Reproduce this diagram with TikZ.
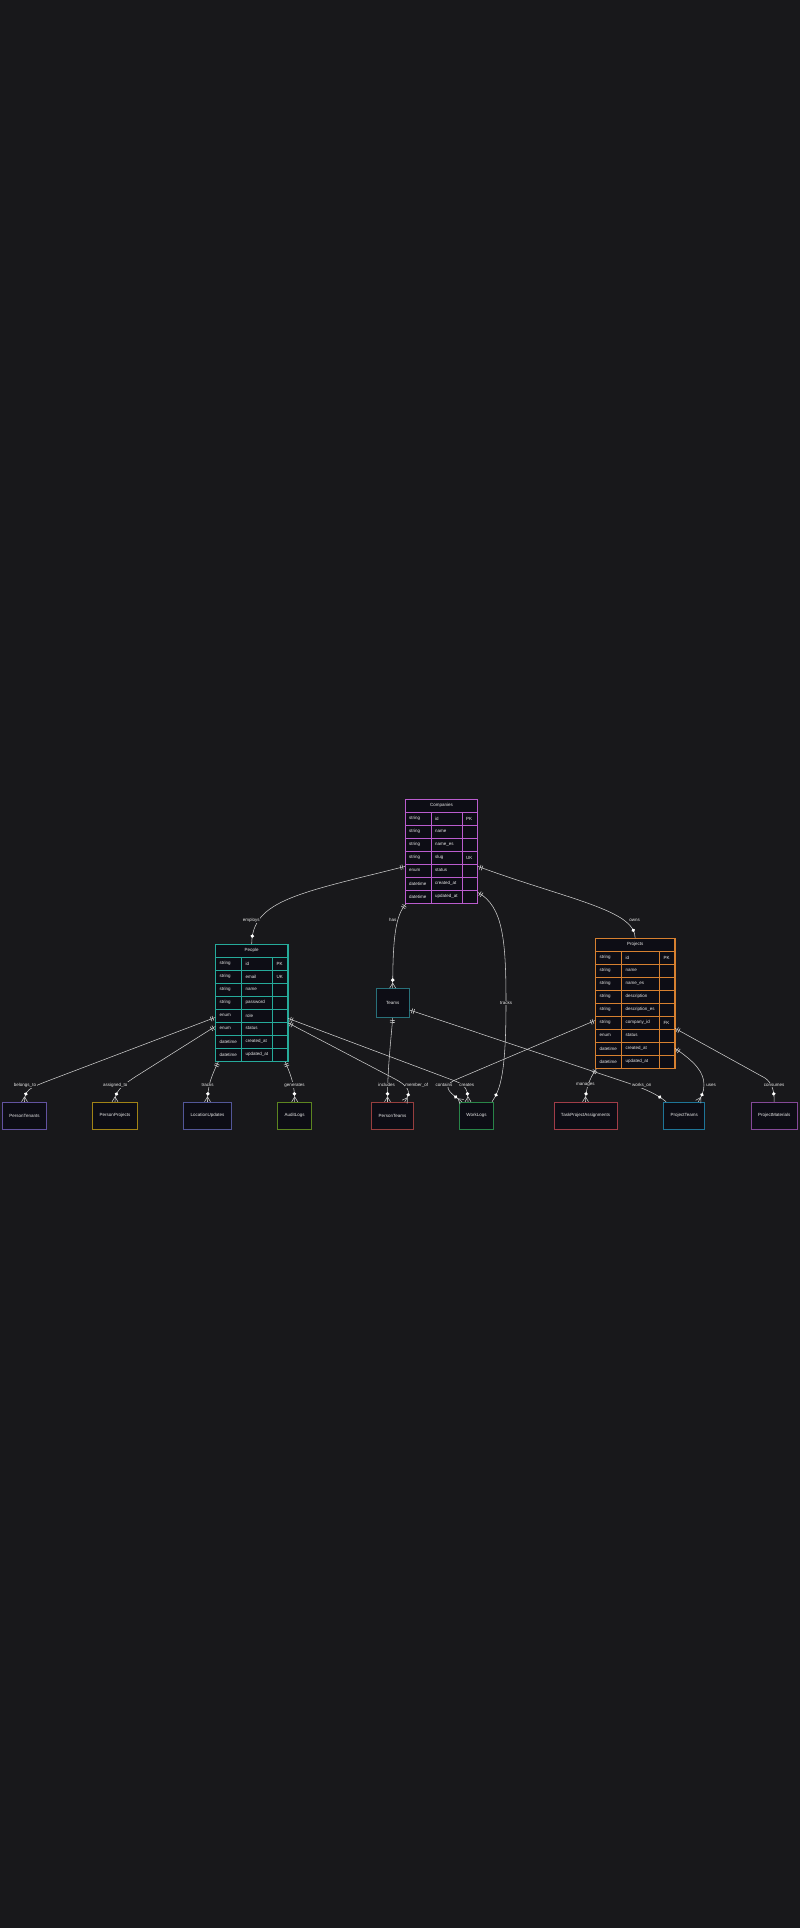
\documentclass[tikz,border=0pt]{standalone}
\usepackage{fontspec}
\setmainfont{Liberation Sans}
\usetikzlibrary{decorations.markings}
\definecolor{canvasBg}{RGB}{24,24,27}
\definecolor{cellFill}{RGB}{13,13,21}
\definecolor{edgeInk}{RGB}{205,205,205}
\definecolor{textInk}{RGB}{234,234,234}
\definecolor{companyStroke}{RGB}{186,92,206}
\definecolor{peopleStroke}{RGB}{38,170,155}
\definecolor{projectStroke}{RGB}{214,128,48}
\definecolor{teamStroke}{RGB}{40,112,122}
\definecolor{tenantStroke}{RGB}{98,82,160}
\definecolor{goldStroke}{RGB}{160,130,22}
\definecolor{locationStroke}{RGB}{82,86,152}
\definecolor{auditStroke}{RGB}{92,132,32}
\definecolor{personTeamStroke}{RGB}{150,62,62}
\definecolor{workStroke}{RGB}{40,132,72}
\definecolor{taskStroke}{RGB}{160,60,72}
\definecolor{projTeamStroke}{RGB}{30,116,152}
\definecolor{materialStroke}{RGB}{132,72,152}
\tikzset{
  txt/.style={font=\fontsize{4.5pt}{5.5pt}\selectfont, text=textInk, inner sep=0pt},
  celltext/.style={txt, anchor=west},
  tablebox/.style={draw, fill=cellFill, line width=0.8pt, inner sep=0pt, anchor=north west},
  entity/.style={txt, draw, fill=cellFill, line width=0.8pt, minimum height=27pt, inner xsep=7pt},
  rellabel/.style={txt, fill=canvasBg, inner sep=0.6pt},
  rel/.style={
    draw=edgeInk,
    line width=0.55pt,
    postaction={decorate, decoration={markings,
      mark=at position 2.5pt with {\draw[edgeInk, line width=0.55pt] (0,-2.5pt) -- (0,2.5pt);},
      mark=at position 4.5pt with {\draw[edgeInk, line width=0.55pt] (0,-2.5pt) -- (0,2.5pt);},
      mark=at position -8pt with {\fill[white] (0,0) circle (1.9pt);},
      mark=at position 1 with {\draw[edgeInk, line width=0.55pt] (-5pt,0) -- (0,3pt) (-5pt,0) -- (0,-3pt);}
    }}
  }
}
\newcommand{\EntityTable}[8]{%
  % #1 name, #2 left, #3 top, #4 colour, #5 title, #6 name column, #7 row count, #8 rows
  \pgfmathsetmacro{\tblW}{41+#6}%
  \pgfmathsetmacro{\tblH}{13*(#7+1)}%
  \node[tablebox, draw=#4, minimum width=\tblW pt, minimum height=\tblH pt] (#1) at (#2,#3) {};
  \node[txt] (#1-title) at ([yshift=-6.5pt]#1.north) {#5};
  \begin{scope}[shift={(#2,#3)}]
    \draw[draw=#4, line width=0.6pt] (26,13) -- (26,\tblH) (26+#6,13) -- (26+#6,\tblH);
    \foreach \etype/\ename/\ekey [count=\erow] in {#8}{
      \draw[draw=#4, line width=0.6pt] (0,\erow*13) -- (\tblW,\erow*13);
      \node[celltext] (#1-type\erow) at (4,\erow*13+6.5) {\etype};
      \node[celltext] (#1-name\erow) at (30,\erow*13+6.5) {\ename};
      \node[celltext] (#1-key\erow) at (30+#6,\erow*13+6.5) {\ekey};
    }
  \end{scope}
  \draw[draw=#4, line width=0.8pt] (#1.north west) rectangle (#1.south east);
}

\begin{document}
\begin{tikzpicture}[x=1pt,y=-1pt]
  \fill[canvasBg] (0,0) rectangle (800,1928);

  \EntityTable{companies}{405}{799}{companyStroke}{Companies}{31}{7}{string/id/PK, string/name/, string/name\_es/, string/slug/UK, enum/status/, datetime/created\_at/, datetime/updated\_at/}
  \EntityTable{people}{215.3}{944}{peopleStroke}{People}{31}{8}{string/id/PK, string/email/UK, string/name/, string/password/, enum/role/, enum/status/, datetime/created\_at/, datetime/updated\_at/}
  \EntityTable{projects}{595.3}{938}{projectStroke}{Projects}{38}{9}{string/id/PK, string/name/, string/name\_es/, string/description/, string/description\_es/, string/company\_id/FK, enum/status/, datetime/created\_at/, datetime/updated\_at/}

  \node[entity, draw=teamStroke, minimum width=33pt, minimum height=29pt] (teams) at (392.7,1003) {Teams};

  \node[entity, draw=tenantStroke] (persontenants) at (24.5,1115.7) {PersonTenants};
  \node[entity, draw=goldStroke] (personprojects) at (115,1115.7) {PersonProjects};
  \node[entity, draw=locationStroke] (locationupdates) at (207.5,1115.7) {LocationUpdates};
  \node[entity, draw=auditStroke] (auditlogs) at (294.7,1115.7) {AuditLogs};
  \node[entity, draw=personTeamStroke] (personteams) at (392.5,1115.7) {PersonTeams};
  \node[entity, draw=workStroke] (worklogs) at (476.5,1115.7) {WorkLogs};
  \node[entity, draw=taskStroke] (taskprojectassignments) at (585.5,1115.7) {TaskProjectAssignments};
  \node[entity, draw=projTeamStroke] (projectteams) at (684.2,1115.7) {ProjectTeams};
  \node[entity, draw=materialStroke] (projectmaterials) at (774.2,1115.7) {ProjectMaterials};

  % relationships
  \draw[rel] ([yshift=-15pt]companies.west) .. controls (300,893) and (252,900) .. (people.north);
  \draw[rel] ([xshift=1pt]companies.south west) .. controls (396,915) and (392.7,935) .. (teams.north);
  \draw[rel] ([yshift=-15pt]companies.east) .. controls (570,900) and (634.7,910) .. (projects.north);
  \draw[rel] ([yshift=-41pt]companies.east) .. controls (503,906) and (506,940) .. (506,1003) .. controls (506,1075) and (500,1090) .. ([xshift=-2pt]worklogs.north east);
  \draw[rel] ([yshift=-14.5pt]people.west) -- (45,1082) .. controls (30,1088) and (24.5,1090) .. (persontenants.north);
  \draw[rel] ([yshift=-23.5pt]people.west) -- (135,1077) .. controls (120,1087) and (115,1092) .. (personprojects.north);
  \draw[rel] ([xshift=3pt]people.south west) .. controls (212,1075) and (207.5,1085) .. (locationupdates.north);
  \draw[rel] ([xshift=-3pt]people.south east) .. controls (291,1075) and (294.7,1085) .. (auditlogs.north);
  \draw[rel] ([yshift=-20pt]people.east) -- (395,1079) .. controls (412,1088) and (410,1094) .. ([xshift=-9pt]personteams.north east);
  \draw[rel] ([yshift=-15.5pt]people.east) -- (455,1081) .. controls (466,1085) and (468,1090) .. ([xshift=-8.5pt]worklogs.north);
  \draw[rel] (teams.south) .. controls (390,1050) and (387.5,1070) .. ([xshift=-5pt]personteams.north);
  \draw[rel] ([yshift=-7pt]teams.east) -- (628,1083) .. controls (648,1090) and (658,1095) .. ([xshift=3pt]projectteams.north west);
  \draw[rel] ([yshift=-17pt]projects.west) -- (455,1080) .. controls (440,1087) and (452,1094) .. ([xshift=3pt]worklogs.north west);
  \draw[rel] ([xshift=1pt]projects.south west) .. controls (590,1078) and (585.5,1088) .. (taskprojectassignments.north);
  \draw[rel] ([yshift=-45pt]projects.east) .. controls (695,1062) and (704,1072) .. (704,1085) .. controls (704,1092) and (701,1097) .. ([xshift=-7pt]projectteams.north east);
  \draw[rel] ([yshift=-25pt]projects.east) -- (765,1078) .. controls (772,1083) and (774.2,1090) .. (projectmaterials.north);

  % labels
  \node[rellabel] (employsLabel) at (251.3,920) {employs};
  \node[rellabel] (hasLabel) at (392.7,920) {has};
  \node[rellabel] (ownsLabel) at (634.7,920) {owns};
  \node[rellabel] (tracksWorkLabel) at (506,1003) {tracks};
  \node[rellabel] (belongsLabel) at (25,1085) {belongs\_to};
  \node[rellabel] (assignedLabel) at (115.2,1085) {assigned\_to};
  \node[rellabel] (tracksLocLabel) at (207.7,1085) {tracks};
  \node[rellabel] (generatesLabel) at (294.5,1085) {generates};
  \node[rellabel] (includesLabel) at (386.7,1085) {includes};
  \node[rellabel] (memberLabel) at (416.7,1085) {member\_of};
  \node[rellabel] (containsLabel) at (444,1085) {contains};
  \node[rellabel] (createsLabel) at (466.7,1085) {creates};
  \node[rellabel] (managesLabel) at (585.3,1085) {manages};
  \node[rellabel] (worksLabel) at (641.7,1085) {works\_on};
  \node[rellabel] (usesLabel) at (711,1085) {uses};
  \node[rellabel] (consumesLabel) at (774,1085) {consumes};
\end{tikzpicture}
\end{document}
